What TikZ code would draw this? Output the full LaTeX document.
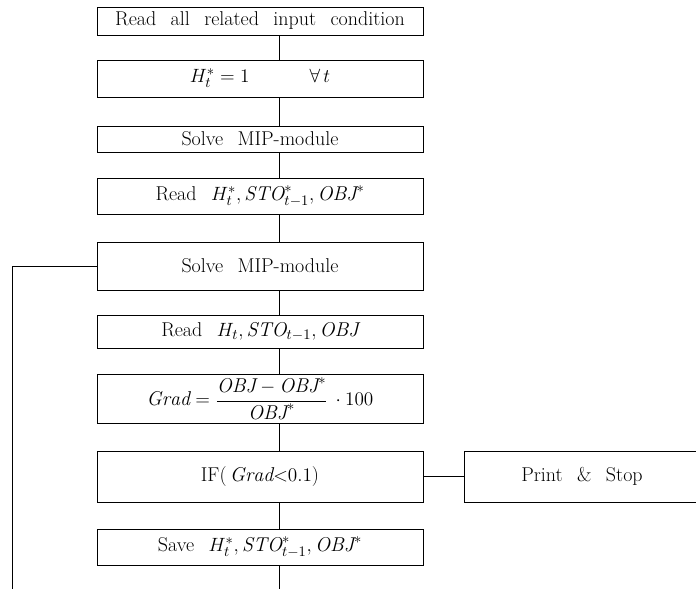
\documentclass[tikz,border=0pt]{standalone}
\usepackage{amssymb,amsmath}
\usepackage{fontspec}
\usepackage{tikz}
\newcommand{\flowfont}{\fontsize{15}{18}\selectfont\spaceskip=0.72em plus 0.2em\relax}
\begin{document}
\begin{tikzpicture}[x=0.75pt,y=-0.75pt]
\tikzstyle{box}=[rectangle,draw=black,line width=0.7pt,minimum width=244.5pt,inner sep=0pt,align=center,font=\flowfont]
\tikzstyle{link}=[draw=black,line width=0.7pt]
\useasboundingbox (0,0) rectangle (696,589);
\coordinate (axis) at (279,0);
\coordinate (L0) at (12,267);
\coordinate (L1) at (12,589);
\coordinate (E1) at (279,589);
\node [box,minimum height=21pt] (R0) at (260,21) {Read all related input condition};
\node [box,minimum height=27.75pt] (I1) at (260,78.5) {$H_t^{*}=1$\qquad\quad$\forall\, t$};
\node [box,minimum height=19.5pt] (S0) at (260,139) {Solve MIP-module};
\node [box,minimum height=27pt] (R1) at (260,196) {Read\ $H_t^{*}, \mathit{STO}_{t-1}^{*}, \mathit{OBJ}^{*}$};
\node [box,minimum height=36pt] (S1) at (260,266) {Solve MIP-module};
\node [box,minimum height=24.75pt] (R2) at (260,331.5) {Read\ $H_t, \mathit{STO}_{t-1}, \mathit{OBJ}$};
\node [box,minimum height=36.75pt] (G1) at (260,398.5) {$\mathit{Grad}=\dfrac{\mathit{OBJ}-\mathit{OBJ}^{*}}{\mathit{OBJ}^{*}}\,\cdot 100$};
\node [box,minimum height=38.25pt] (T1) at (260,476.5) {IF(\,$\mathit{Grad}{<}0.1$)};
\node [box,minimum height=27pt] (V1) at (260,547) {Save\ $H_t^{*}, \mathit{STO}_{t-1}^{*}, \mathit{OBJ}^{*}$};
\node [box,minimum width=177pt,minimum height=38.25pt] (P1) at (582,476.5) {Print \& Stop}
edge [link] (T1);
% main chain
\draw [link] (R0.south -| axis) -- (I1.north -| axis);
\draw [link] (I1.south -| axis) -- (S0.north -| axis);
\draw [link] (S0.south -| axis) -- (R1.north -| axis);
\draw [link] (R1.south -| axis) -- (S1.north -| axis);
\draw [link] (S1.south -| axis) -- (R2.north -| axis);
\draw [link] (R2.south -| axis) -- (G1.north -| axis);
\draw [link] (G1.south -| axis) -- (T1.north -| axis);
\draw [link] (T1.south -| axis) -- (V1.north -| axis);
\draw [link] (V1.south -| axis) -- (E1);
% loop back
\draw [link] (S1.west) -- (S1.west -| L0) -- (L1);
\end{tikzpicture}
\end{document}
